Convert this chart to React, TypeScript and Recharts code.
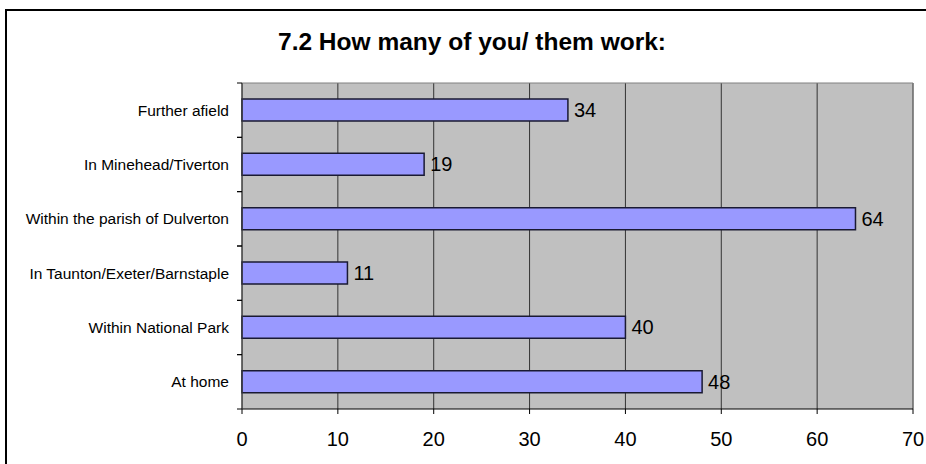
import { BarChart, Bar, XAxis, YAxis, CartesianGrid, LabelList } from 'recharts';

const categories = [
  'Further afield',
  'In Minehead/Tiverton',
  'Within the parish of Dulverton',
  'In Taunton/Exeter/Barnstaple',
  'Within National Park',
  'At home',
];
const counts = [34, 19, 64, 11, 40, 48];
const xTicks = [0, 10, 20, 30, 40, 50, 60, 70];

const data = categories.map((name, i) => ({ name, value: counts[i] }));

const FONT = '"Liberation Sans", Arial, sans-serif';
const MARGIN = { top: 83, right: 13, bottom: 0, left: 0 };
const X_AXIS_H = 55;
const CHART_H = 464;
const TICK_MARGIN = 8;
const TICK_SIZE = 5;

// label at the band centre, tick marks at the band edges (Excel style)
const CategoryTick = ({ x, y, payload }: any) => {
  const half =
    payload?.offset || (CHART_H - MARGIN.top - X_AXIS_H) / categories.length / 2;
  const x1 = x + TICK_MARGIN;
  const x2 = x1 + TICK_SIZE;
  return (
    <g>
      <line x1={x1} x2={x2} y1={y - half} y2={y - half} stroke="#000" />
      <line x1={x1} x2={x2} y1={y + half} y2={y + half} stroke="#000" />
      <text
        x={x}
        y={y}
        dy="0.355em"
        textAnchor="end"
        fontFamily={FONT}
        fontSize={15.5}
        fill="#000"
      >
        {payload.value}
      </text>
    </g>
  );
};

export default function App() {
  return (
    <div
      style={{
        position: 'absolute',
        left: 0,
        top: 0,
        width: 926,
        height: 464,
        background: '#fff',
        overflow: 'hidden',
        fontFamily: FONT,
      }}
    >
      {/* frame: only the top and left edges show in the crop */}
      <div style={{ position: 'absolute', left: 5, top: 9, width: 921, height: 2, background: '#000' }} />
      <div style={{ position: 'absolute', left: 5, top: 9, width: 2, height: 455, background: '#000' }} />
      <div
        style={{
          position: 'absolute',
          left: 272,
          top: 30,
          width: 400,
          textAlign: 'center',
          fontSize: 24.5,
          lineHeight: 1,
          fontWeight: 'bold',
          color: '#000',
          whiteSpace: 'nowrap',
        }}
      >
        7.2 How many of you/ them work:
      </div>
      <div style={{ position: 'absolute', left: 0, top: 0 }}>
        <BarChart
          width={926}
          height={CHART_H}
          data={data}
          layout="vertical"
          margin={MARGIN}
          barSize={22}
        >
          <CartesianGrid fill="#C0C0C0" horizontal={false} stroke="#333" />
          <CartesianGrid
            stroke="#808080"
            horizontalCoordinatesGenerator={({ offset }: any) => [offset.top]}
            verticalCoordinatesGenerator={({ offset }: any) => [offset.left + offset.width]}
          />
          <XAxis
            type="number"
            domain={[0, 70]}
            ticks={xTicks}
            interval={0}
            height={X_AXIS_H}
            axisLine={{ stroke: '#000' }}
            tickLine={{ stroke: '#000' }}
            tickSize={5}
            tickMargin={18}
            tick={{ fill: '#000', fontSize: 20, fontFamily: FONT }}
          />
          <YAxis
            type="category"
            dataKey="name"
            width={242}
            interval={0}
            axisLine={{ stroke: '#404040' }}
            tickLine={false}
            tickSize={TICK_SIZE}
            tickMargin={TICK_MARGIN}
            tick={<CategoryTick />}
          />
          <Bar
            dataKey="value"
            fill="#9999FF"
            stroke="#1a1a33"
            strokeWidth={1.5}
            isAnimationActive={false}
          >
            <LabelList
              dataKey="value"
              position="right"
              offset={6}
              fill="#000"
              fontSize={20}
              fontFamily={FONT}
            />
          </Bar>
        </BarChart>
      </div>
    </div>
  );
}
